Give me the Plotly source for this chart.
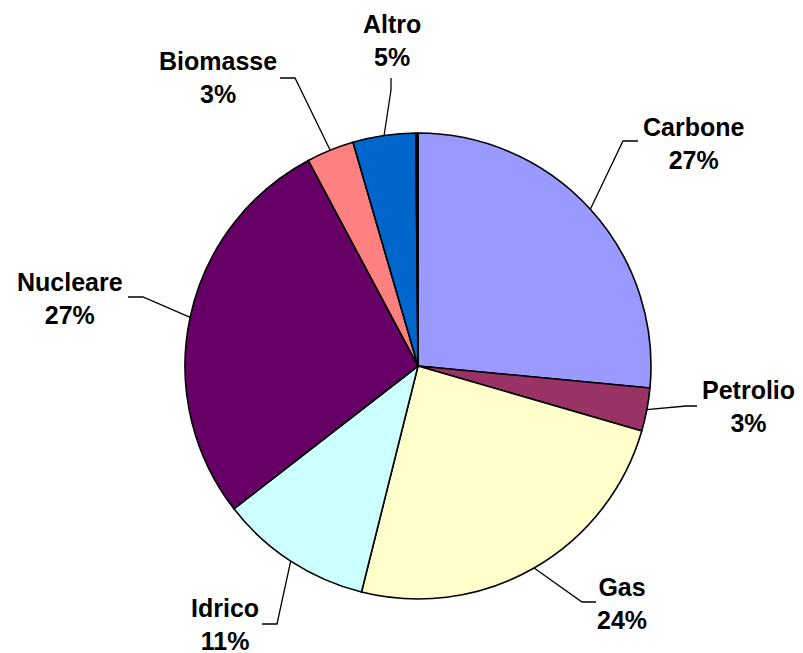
import math
import plotly.graph_objects as go

# data (clockwise from 12 o'clock)
labels = ["Carbone", "Petrolio", "Gas", "Idrico", "Nucleare", "Biomasse", "Altro", ""]
values = [26.5, 3.0, 24.4, 10.6, 27.7, 3.3, 4.35, 0.15]
pct_text = ["27%", "3%", "24%", "11%", "27%", "3%", "5%", ""]
colors = ["#9999FF", "#993366", "#FFFFCC", "#CCFFFF", "#660066", "#FF8080", "#0066CC", "#000000"]

W, H = 803, 653
OFF = 8  # page body margin
CX, CY, R = 418 - OFF, 366 - OFF, 233

# label placement (screen pixels): text centre, elbow of leader line, end of leader line
label_pos = [(694, 143), (748, 406), (622, 603), (225, 624), (70, 298), (218, 77), (392, 40)]
elbows = [(623, 141), (686, 406), (582, 602), (277, 624), (143, 297), (295, 78), (391, 90)]
ends = [(638, 141), (697, 406), (596, 602), (262, 624), (128, 297), (280, 78), (391, 78)]

fig = go.Figure()
fig.add_trace(go.Pie(
    labels=labels,
    values=values,
    sort=False,
    direction="clockwise",
    rotation=0,
    marker=dict(colors=colors, line=dict(color="black", width=1.6)),
    textinfo="none",
    hoverinfo="label+percent",
    showlegend=False,
    domain=dict(x=[(CX - R) / W, (CX + R) / W],
                y=[(H - CY - R) / H, (H - CY + R) / H]),
))

# leader lines start at the slice's mid-angle on the rim
total = sum(values)
lx, ly = [], []
cum = 0
for i, v in enumerate(values):
    mid = (cum + v / 2) / total * 2 * math.pi
    cum += v
    if i >= len(label_pos):
        continue
    sx = CX + R * math.sin(mid)
    sy = CY - R * math.cos(mid)
    lx += [sx, elbows[i][0] - OFF, ends[i][0] - OFF, None]
    ly += [sy, elbows[i][1] - OFF, ends[i][1] - OFF, None]

fig.add_trace(go.Scatter(x=lx, y=ly, mode="lines",
                         line=dict(color="black", width=1.3),
                         hoverinfo="skip", showlegend=False))

for i, (tx, ty) in enumerate(label_pos):
    fig.add_annotation(x=tx - OFF, y=ty - OFF, xref="x", yref="y",
                       text=f"<b>{labels[i]}</b><br><b>{pct_text[i]}</b>",
                       showarrow=False, align="center",
                       font=dict(family="Liberation Sans, Arial", size=25, color="black"))

fig.update_layout(
    width=W, height=H,
    margin=dict(l=0, r=0, t=0, b=0),
    paper_bgcolor="white", plot_bgcolor="rgba(0,0,0,0)",
    xaxis=dict(range=[0, W], visible=False, fixedrange=True),
    yaxis=dict(range=[H, 0], visible=False, fixedrange=True),
)

fig.write_html("out.html")
